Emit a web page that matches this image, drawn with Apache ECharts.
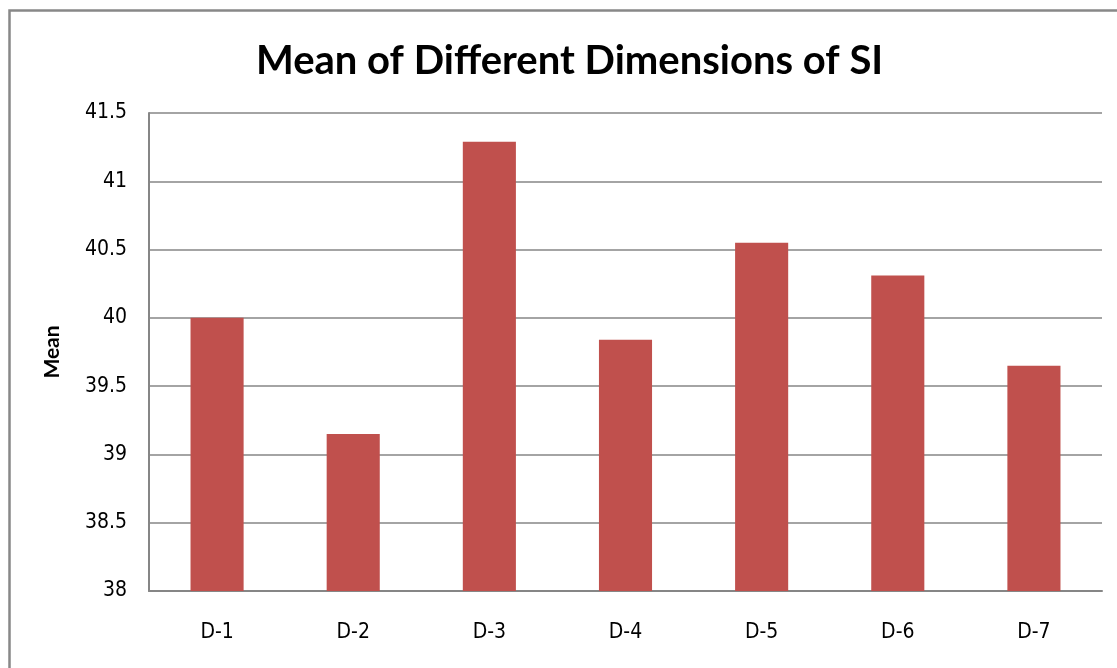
<!DOCTYPE html>
<html>
<head>
<meta charset="utf-8">
<script src="https://cdn.jsdelivr.net/npm/echarts@6/dist/echarts.min.js"></script>
<style>
  html, body { margin: 0; padding: 0; background: #fff; }
  #chart { width: 1117px; height: 668px; }
</style>
</head>
<body>
<div id="chart"></div>
<script>
// Mean score of each SI dimension
const categories = ['D-1', 'D-2', 'D-3', 'D-4', 'D-5', 'D-6', 'D-7'];
const means = [40.0, 39.15, 41.29, 39.84, 40.55, 40.31, 39.65];
const yTicks = { min: 38, max: 41.5, interval: 0.5 };

const labelFont = '"DejaVu Sans Condensed", "DejaVu Sans", Verdana, sans-serif';
const chart = echarts.init(document.getElementById('chart'), null, { renderer: 'canvas' });

chart.setOption({
  animation: false,
  backgroundColor: '#ffffff',
  graphic: [{
    type: 'rect',
    left: 7, top: 8,
    shape: { width: 1300, height: 800 },
    style: { fill: 'none', stroke: '#888888', lineWidth: 2.5 },
    silent: true
  }],
  title: {
    text: 'Mean of Different Dimensions of SI',
    left: 251,
    top: 36,
    textStyle: {
      fontFamily: 'Lato, "Open Sans", sans-serif',
      fontWeight: 'bold',
      fontSize: 40,
      color: '#000'
    }
  },
  grid: { left: 149, right: 15, top: 113, bottom: 77, containLabel: false },
  xAxis: {
    type: 'category',
    data: categories,
    axisLine: { lineStyle: { color: '#868686', width: 2 } },
    axisTick: { show: false },
    axisLabel: {
      margin: 31,
      fontFamily: labelFont,
      fontSize: 21,
      color: '#000'
    }
  },
  yAxis: {
    type: 'value',
    min: yTicks.min,
    max: yTicks.max,
    interval: yTicks.interval,
    name: 'Mean',
    nameLocation: 'middle',
    nameGap: 86,
    nameRotate: 90,
    nameTextStyle: {
      fontFamily: 'Lato, "Open Sans", sans-serif',
      fontWeight: 'bold',
      fontSize: 21,
      color: '#000'
    },
    axisLine: { show: true, lineStyle: { color: '#868686', width: 2 } },
    axisTick: { show: false },
    splitLine: { lineStyle: { color: '#868686', width: 1.5 } },
    axisLabel: {
      margin: 22,
      fontFamily: labelFont,
      fontSize: 21,
      color: '#000',
      formatter: v => String(Math.round(v * 10) / 10)
    }
  },
  series: [{
    type: 'bar',
    data: means,
    barWidth: '39%',
    itemStyle: { color: '#C0504D' }
  }]
});
</script>
</body>
</html>
